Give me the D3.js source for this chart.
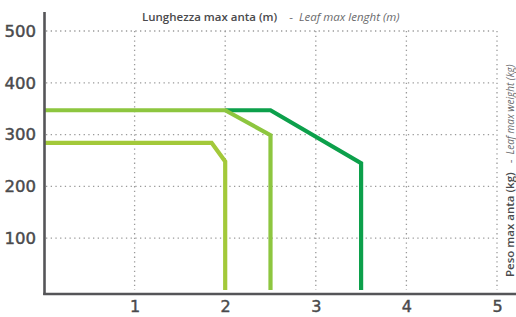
<!DOCTYPE html>
<html>
<head>
<meta charset="utf-8">
<script src="https://cdn.jsdelivr.net/npm/d3@7"></script>
<style>
  body { margin: 0; background: #fff; }
  .tick text { font-family: "DejaVu Sans", sans-serif; fill: #4a4a4c; stroke: #4a4a4c; stroke-width: 0.45px; }
</style>
</head>
<body>
<div id="chart"></div>
<script>
// Chart data
var xTicks = [1, 2, 3, 4, 5];
var yTicks = [100, 200, 300, 400, 500];

var shortLeaf = [[0, 284], [1.85, 284], [2, 248], [2, 0]];
var midLeaf = [[0, 347], [2, 347], [2.5, 299], [2.5, 0]];
var longLeaf = [[2, 347], [2.5, 347], [3.5, 245], [3.5, 0]];

var series = [
  { name: "long", points: longLeaf, color: "#0ca04b" },
  { name: "mid", points: midLeaf, color: "#8dc63f" },
  { name: "short", points: shortLeaf, color: "#a3c93a" }
];

// Create SVG box
var svgWidth = 516;
var svgHeight = 317;

var margin = { top: 31, right: 19, bottom: 27, left: 44 };

var width = svgWidth - margin.left - margin.right;
var height = svgHeight - margin.top - margin.bottom;

var svg = d3.select("#chart")
  .append("svg")
  .attr("width", svgWidth)
  .attr("height", svgHeight);

var chartGroup = svg.append("g")
  .attr("transform", `translate(${margin.left}, ${margin.top})`);

// Scales
var xScale = d3.scaleLinear().domain([0, 5]).range([0, width]);
var yScale = d3.scaleLinear().domain([0, 500]).range([height, 0]);

// Dotted grid
chartGroup.append("g")
  .selectAll("line")
  .data(yTicks)
  .enter()
  .append("line")
  .attr("x1", 2)
  .attr("x2", xScale(5))
  .attr("y1", d => yScale(d))
  .attr("y2", d => yScale(d))
  .attr("stroke", "#9a9a9a")
  .attr("stroke-width", 1.3)
  .attr("stroke-dasharray", "1.3,3.4");

chartGroup.append("g")
  .selectAll("line")
  .data(xTicks)
  .enter()
  .append("line")
  .attr("x1", d => xScale(d))
  .attr("x2", d => xScale(d))
  .attr("y1", yScale(500))
  .attr("y2", height)
  .attr("stroke", "#9a9a9a")
  .attr("stroke-width", 1.3)
  .attr("stroke-dasharray", "1.3,3.4");

// Lines
var line = d3.line()
  .x(d => xScale(d[0]))
  .y(d => yScale(d[1]));

chartGroup.selectAll(".series")
  .data(series)
  .enter()
  .append("path")
  .attr("class", "series")
  .attr("d", d => line(d.points))
  .attr("fill", "none")
  .attr("stroke", d => d.color)
  .attr("stroke-width", 4.2)
  .attr("stroke-linejoin", "miter");

// Axes
var bottomAxis = d3.axisBottom(xScale).tickValues(xTicks).tickFormat(d3.format("d")).tickSize(0).tickPadding(7);
var leftAxis = d3.axisLeft(yScale).tickValues(yTicks).tickFormat(d3.format("d")).tickSize(0).tickPadding(8);

var xAxis = chartGroup.append("g")
  .attr("transform", "translate(0," + (height + 4) + ")")
  .call(bottomAxis);
xAxis.select(".domain").remove();
xAxis.selectAll("text").attr("font-size", 16);

var yAxis = chartGroup.append("g")
  .call(leftAxis);
yAxis.select(".domain").remove();
yAxis.selectAll("text").attr("font-size", 16.5);

// Axis lines
chartGroup.append("line")
  .attr("x1", 0.5).attr("x2", 0.5)
  .attr("y1", -19).attr("y2", height + 5)
  .attr("stroke", "#555558")
  .attr("stroke-width", 2.6);

chartGroup.append("line")
  .attr("x1", -0.8).attr("x2", svgWidth - margin.left)
  .attr("y1", height + 4).attr("y2", height + 4)
  .attr("stroke", "#555558")
  .attr("stroke-width", 2.6);

// Top axis title
var topTitle = svg.append("text")
  .attr("x", 142)
  .attr("y", 21)
  .attr("font-family", "'Open Sans', sans-serif")
  .attr("font-size", 11.5)
  .attr("fill", "#4a4a4c");
topTitle.append("tspan").attr("font-weight", 600).text("Lunghezza max anta (m)");
topTitle.append("tspan").attr("dx", 12).attr("fill", "#6a6a6c").text("-");
topTitle.append("tspan").attr("dx", 6).attr("font-style", "italic").attr("fill", "#6a6a6c").text("Leaf max lenght (m)");

// Right axis title
var rightTitle = svg.append("text")
  .attr("transform", "translate(514, 277) rotate(-90)")
  .attr("font-family", "'Open Sans', sans-serif")
  .attr("font-size", 11.5)
  .attr("fill", "#4a4a4c");
rightTitle.append("tspan").attr("font-weight", 600).text("Peso max anta (kg)");
rightTitle.append("tspan").attr("dx", 9).attr("fill", "#6a6a6c").text("-");
rightTitle.append("tspan").attr("dx", 5).attr("font-size", 10).attr("font-style", "italic").attr("fill", "#6a6a6c").text("Leaf max weight (kg)");
</script>
</body>
</html>
